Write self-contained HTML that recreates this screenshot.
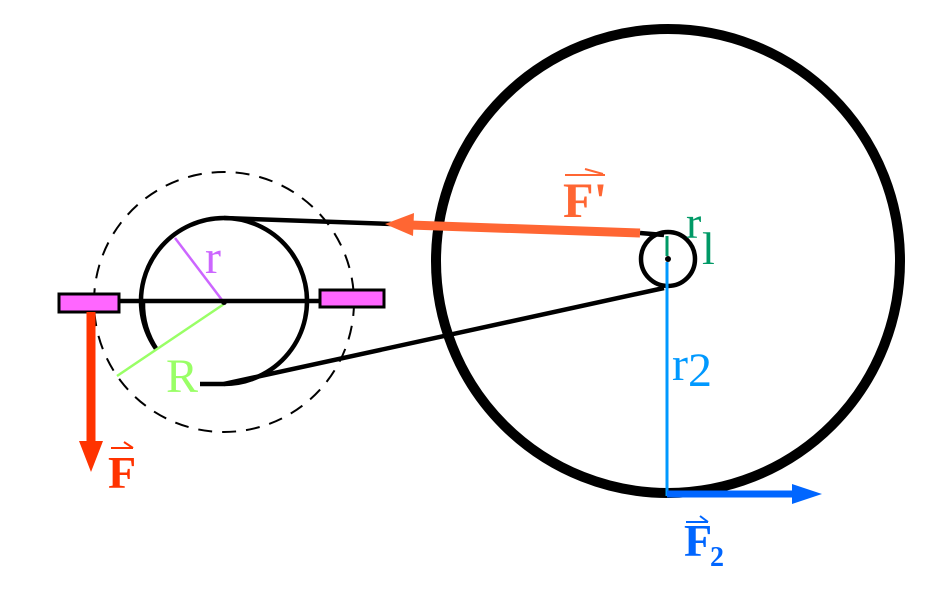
<!DOCTYPE html>
<html><head><style>body{margin:0;background:#fff}svg{display:block}text{font-family:"Liberation Serif",serif}</style></head><body>
<svg width="944" height="590" viewBox="0 0 944 590">
<circle cx="224" cy="302" r="130" fill="none" stroke="#000" stroke-width="2" stroke-dasharray="14,10"/>
<path d="M200,384 L224,384 A83,83 0 1 0 157,350" fill="none" stroke="#000" stroke-width="4.5"/>
<path d="M157,350 A83,83 0 0 1 143,302" fill="none" stroke="#000" stroke-width="4.5"/>
<circle cx="668" cy="261" r="232" fill="none" stroke="#000" stroke-width="10"/>
<circle cx="668" cy="259" r="27" fill="none" stroke="#000" stroke-width="4.5"/>
<line x1="224" y1="218" x2="392" y2="224" stroke="#000" stroke-width="4.5"/>
<line x1="640" y1="233" x2="664" y2="235" stroke="#000" stroke-width="4.5"/>
<line x1="224" y1="384" x2="664" y2="288" stroke="#000" stroke-width="4.5"/>
<line x1="640" y1="233" x2="410" y2="225" stroke="#ff6633" stroke-width="9"/>
<polygon points="385,224 414,213 413,236" fill="#ff6633"/>
<line x1="175" y1="238" x2="222" y2="300" stroke="#cc66ff" stroke-width="2.5"/>
<line x1="224" y1="304" x2="117" y2="376" stroke="#99ff66" stroke-width="2.5"/>
<line x1="100" y1="301" x2="320" y2="301" stroke="#000" stroke-width="4.5"/>
<circle cx="224" cy="302" r="3" fill="#000"/>
<rect x="59" y="294" width="60" height="18" fill="#ff66ff" stroke="#000" stroke-width="3"/>
<rect x="320" y="290" width="64" height="17" fill="#ff66ff" stroke="#000" stroke-width="3"/>
<line x1="91" y1="312" x2="91" y2="445" stroke="#ff3300" stroke-width="9"/>
<polygon points="79,441 103,441 91,472" fill="#ff3300"/>
<line x1="667" y1="262" x2="667" y2="496" stroke="#0099ff" stroke-width="3"/>
<line x1="667" y1="236" x2="667" y2="256" stroke="#009966" stroke-width="3"/>
<circle cx="668" cy="259" r="3" fill="#000"/>
<line x1="667" y1="494" x2="795" y2="494" stroke="#0066ff" stroke-width="7"/>
<polygon points="792,484 822,494 792,504" fill="#0066ff"/>
<text x="205" y="273" font-size="48" fill="#cc66ff">r</text>
<text x="166" y="392" font-size="48" fill="#99ff66">R</text>
<text x="108" y="488" font-size="46" font-weight="bold" fill="#ff3300">F</text>
<line x1="111" y1="448" x2="133" y2="448" stroke="#ff3300" stroke-width="2"/>
<line x1="124" y1="442" x2="133" y2="448" stroke="#ff3300" stroke-width="2"/>
<text x="563" y="217" font-size="50" font-weight="bold" fill="#ff6633">F'</text>
<line x1="565" y1="175" x2="605" y2="175" stroke="#ff6633" stroke-width="2"/>
<line x1="585" y1="169" x2="603" y2="174" stroke="#ff6633" stroke-width="2"/>
<text x="686" y="238" font-size="46" fill="#009966">r</text>
<text x="702" y="264" font-size="46" fill="#009966">l</text>
<text x="672" y="380" font-size="48" fill="#0099ff">r</text>
<text x="688" y="386" font-size="48" fill="#0099ff">2</text>
<text x="684" y="556" font-size="46" font-weight="bold" fill="#0066ff">F</text>
<text x="710" y="566" font-size="28" font-weight="bold" fill="#0066ff">2</text>
<line x1="686" y1="522" x2="708" y2="522" stroke="#0066ff" stroke-width="2"/>
<line x1="700" y1="516" x2="708" y2="522" stroke="#0066ff" stroke-width="2"/>
</svg>
</body></html>
